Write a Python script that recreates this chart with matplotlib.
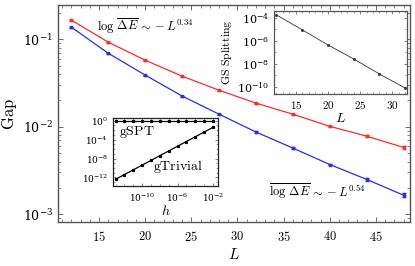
import numpy as np
import matplotlib
matplotlib.use("Agg")
import matplotlib.pyplot as plt
from matplotlib.ticker import FuncFormatter, LogLocator, MultipleLocator, NullFormatter, FixedLocator

plt.rcParams['mathtext.fontset'] = 'cm'
plt.rcParams['font.family'] = 'serif'
plt.rcParams['font.serif'] = ['DejaVu Serif']

# main data
L = [12, 16, 20, 24, 28, 32, 36, 40, 44, 48]
gap_red = [0.165, 0.0924, 0.0575, 0.0378, 0.0261, 0.0186, 0.0139, 0.0101, 0.0078, 0.0058]
gap_blue = [0.137, 0.069, 0.0389, 0.0224, 0.0139, 0.0087, 0.0057, 0.0037, 0.0025, 0.00165]
err_red = [0.002, 0.001, 0.0006, 0.0004, 0.0003, 0.0002, 0.0002, 0.00015, 0.00015, 0.0002]
err_blue = [0.002, 0.001, 0.0005, 0.0003, 0.0002, 0.00012, 0.0001, 0.00008, 0.00009, 0.00008]

# inset 1: GS splitting
L_gs = [12, 16, 20, 24, 28, 32]
log_gs = [-3.75, -5.04, -6.35, -7.57, -8.87, -10.1]

# inset 2: gap vs h
log_h = [-13, -12, -11, -10, -9, -8, -7, -6, -5, -4, -3, -2]
log_gspt = [0, 0, 0, 0, 0, 0, 0, 0, 0, 0, 0, 0]
log_gtriv = [-12.4, -11.4, -10.4, -9.4, -8.4, -7.4, -6.4, -5.4, -4.4, -3.4, -2.4, -1.4]
h_ticks = [-10, -6, -2]
gap_ticks = [-12, -8, -4, 0]

frame_col = '#555555'

fig = plt.figure(figsize=(4.15, 2.66), dpi=100)
ax = fig.add_axes([0.1398, 0.165, 0.988 - 0.1398, 0.981 - 0.165])

ax.errorbar(L, gap_red, yerr=err_red, color='#ff2a2a', lw=0.9, marker='s', ms=1.8,
            capsize=1.5, elinewidth=0.8)
ax.errorbar(L, gap_blue, yerr=err_blue, color='#2a2aff', lw=0.9, marker='s', ms=1.8,
            capsize=1.5, elinewidth=0.8)
ax.set_yscale('log')
ax.set_xlim(10.55, 48.7)
ax.set_ylim(10**-3.09, 10**-0.61)
ax.xaxis.set_major_locator(MultipleLocator(5))
ax.xaxis.set_minor_locator(MultipleLocator(1))
ax.xaxis.set_major_formatter(FuncFormatter(lambda v, p: f'${v:g}$'))
ax.yaxis.set_major_locator(LogLocator(base=10, numticks=10))
ax.yaxis.set_minor_locator(LogLocator(base=10, subs=np.arange(2, 10), numticks=20))
ax.yaxis.set_minor_formatter(NullFormatter())
ax.tick_params(which='both', direction='in', top=True, right=True, labelsize=9, color=frame_col)
ax.tick_params(which='major', length=3.5, width=0.6)
ax.tick_params(which='minor', length=2, width=0.5)
ax.tick_params(axis='x', pad=6)
for s in ax.spines.values():
    s.set_color(frame_col)
    s.set_linewidth(1.0)
ax.set_xlabel(r'$L$', fontsize=11, labelpad=2)
ax.set_ylabel(r'$\mathrm{Gap}$', fontsize=12, labelpad=3)

ax.text(0.11, 0.9, r'$\log\,\overline{\Delta E}\,\sim -L^{0.34}$', transform=ax.transAxes,
        fontsize=9, ha='left', va='center')
ax.text(0.60, 0.14, r'$\overline{\log\,\Delta E}\,\sim -L^{0.54}$', transform=ax.transAxes,
        fontsize=9, ha='left', va='center')

# inset 1
ax1 = fig.add_axes([0.660, 0.647, 0.981 - 0.660, 0.959 - 0.647])
ax1.plot(L_gs, [10**v for v in log_gs], color='#333333', lw=0.6, marker='s', ms=1)
ax1.set_yscale('log')
ax1.set_xlim(11.6, 32.3)
ax1.set_ylim(10**-10.6, 10**-3.4)
ax1.xaxis.set_major_locator(MultipleLocator(5))
ax1.xaxis.set_minor_locator(MultipleLocator(1))
ax1.xaxis.set_major_formatter(FuncFormatter(lambda v, p: f'${v:g}$'))
ax1.yaxis.set_major_locator(LogLocator(base=100, numticks=10))
ax1.yaxis.set_minor_locator(LogLocator(base=10, subs=(1.0,), numticks=20))
ax1.yaxis.set_minor_formatter(NullFormatter())
ax1.tick_params(which='both', direction='in', top=True, right=True, labelsize=8, color=frame_col)
ax1.tick_params(which='major', length=2.5, width=0.5)
ax1.tick_params(which='minor', length=1.5, width=0.4)
for s in ax1.spines.values():
    s.set_color(frame_col)
    s.set_linewidth(0.9)
ax1.set_xlabel(r'$L$', fontsize=10, labelpad=0)
ax1.set_ylabel(r'$\mathrm{GS\ Splitting}$', fontsize=8.5, labelpad=2)

# inset 2
ax2 = fig.add_axes([0.272, 0.301, 0.525 - 0.272, 0.556 - 0.301])
hh = [10**v for v in log_h]
ax2.plot(hh, [10**v for v in log_gspt], color='black', lw=0.9, marker='s', ms=1.3)
ax2.plot(hh, [10**v for v in log_gtriv], color='black', lw=0.9, marker='s', ms=1.3)
ax2.set_xscale('log')
ax2.set_yscale('log')
ax2.set_xlim(10**-13.3, 10**-1.45)
ax2.set_ylim(10**-13.8, 10**0.55)
ax2.xaxis.set_major_locator(FixedLocator([10.0**v for v in h_ticks]))
ax2.xaxis.set_minor_locator(LogLocator(base=10, subs=(1.0,), numticks=30))
ax2.xaxis.set_minor_formatter(NullFormatter())
ax2.yaxis.set_major_locator(FixedLocator([10.0**v for v in gap_ticks]))
ax2.yaxis.set_minor_locator(LogLocator(base=10, subs=(1.0,), numticks=30))
ax2.yaxis.set_minor_formatter(NullFormatter())
ax2.tick_params(which='both', direction='in', top=True, right=True, labelsize=6.5, color=frame_col)
ax2.tick_params(which='major', length=2.5, width=0.5)
ax2.tick_params(which='minor', length=1.5, width=0.4)
ax2.tick_params(axis='x', pad=4)
for s in ax2.spines.values():
    s.set_color('#222222')
    s.set_linewidth(0.9)
ax2.set_xlabel(r'$h$', fontsize=10, labelpad=0)
ax2.text(0.23, 0.79, r'$\mathrm{gSPT}$', transform=ax2.transAxes, fontsize=10, ha='center', va='center')
ax2.text(0.62, 0.29, r'$\mathrm{gTrivial}$', transform=ax2.transAxes, fontsize=10, ha='center', va='center')

fig.savefig('out.png', dpi=100)
